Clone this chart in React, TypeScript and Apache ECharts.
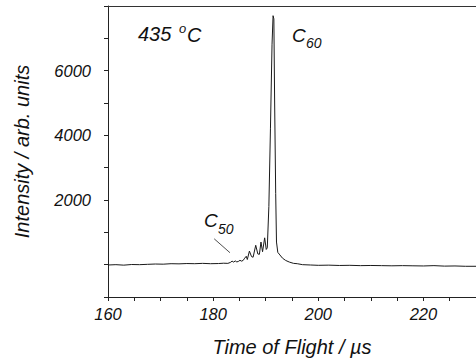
import React, { useEffect, useRef } from "react";
import * as echarts from "echarts";

const times: number[] = [
  160.0, 161.5, 163.0, 164.5, 166.0, 167.5, 169.0, 170.5, 172.0, 173.5, 175.0, 176.5, 178.0, 179.5, 181.0,
  182.0, 182.8, 183.3, 183.6, 183.9, 184.2, 184.5, 184.8, 185.1, 185.4, 185.7, 186.0, 186.3, 186.5, 186.9,
  187.3, 187.6, 188.1, 188.5, 188.8, 189.1, 189.4, 189.8, 190.1, 190.3, 190.6, 190.9, 191.2, 191.4, 191.55,
  191.7, 191.9, 192.05, 192.3, 192.7, 193.2, 193.8, 194.5, 195.3, 196.0, 197.0, 198.5, 200, 202, 204, 206,
  208, 210, 212, 214, 216, 218, 220, 222, 224, 226, 228, 230,
];
const intensity: number[] = [
  -10, 0, -15, 5, 0, 10, 20, 15, 30, 25, 35, 30, 40, 30, 35,
  45, 40, 70, 110, 80, 115, 85, 100, 135, 110, 130, 200, 260, 160, 420,
  250, 230, 600, 330, 320, 700, 400, 830, 470, 520, 1800, 4200, 6800, 7700, 7600,
  5000, 2200, 700, 380, 300, 200, 130, 80, 40, 30, 0, -10, -20, -15, -25, -20,
  -30, -25, -30, -35, -30, -35, -40, -30, -45, -40, -50, -50,
];
const xTickLabels: number[] = [160, 180, 200, 220];
const yTickLabels: number[] = [2000, 4000, 6000];
const leader: [number, number][] = [[180.2, 800], [183.2, 370]];

const FONT = "'Liberation Sans', Arial, Helvetica, sans-serif";
const INK = "#111";

export default function App() {
  const ref = useRef<HTMLDivElement>(null);
  useEffect(() => {
    if (!ref.current) return;
    const chart = echarts.init(ref.current, null, { renderer: "svg" });
    const data = times.map((t, i) => [t, intensity[i]]);
    const txt = (text: string, x: number, y: number, size: number) => ({
      type: "text",
      x,
      y,
      style: {
        text,
        fontSize: size,
        fontStyle: "italic",
        fontFamily: FONT,
        fill: INK,
        textAlign: "left",
        textVerticalAlign: "top",
      },
    });
    chart.setOption({
      animation: false,
      backgroundColor: "#fff",
      grid: { left: 108, right: 0, top: 6, bottom: 67, containLabel: false },
      xAxis: [
        {
          type: "value",
          min: 160,
          max: 230,
          interval: 5,
          name: "Time of Flight / µs",
          nameLocation: "middle",
          nameGap: 40,
          nameTextStyle: { fontSize: 20, fontStyle: "italic", fontFamily: FONT, color: INK },
          axisLine: { show: true, onZero: false, lineStyle: { color: "#222", width: 1 } },
          axisTick: { show: true, length: 4, inside: false, lineStyle: { color: "#222" } },
          axisLabel: {
            margin: 8,
            fontSize: 16.5,
            fontStyle: "italic",
            fontFamily: FONT,
            color: INK,
            showMaxLabel: false,
            formatter: (v: number) => (xTickLabels.includes(v) ? String(v) : ""),
          },
          splitLine: { show: false },
        },
        {
          type: "value",
          position: "top",
          min: 160,
          max: 230,
          axisLine: { show: true, onZero: false, lineStyle: { color: "#333", width: 1 } },
          axisTick: { show: false },
          axisLabel: { show: false },
          splitLine: { show: false },
        },
      ],
      yAxis: {
        type: "value",
        min: -1000,
        max: 8000,
        interval: 1000,
        name: "Intensity / arb. units",
        nameLocation: "middle",
        nameGap: 76,
        nameTextStyle: { fontSize: 20, fontStyle: "italic", fontFamily: FONT, color: INK },
        axisLine: { show: true, onZero: false, lineStyle: { color: "#222", width: 1 } },
        axisTick: { show: true, length: 4, inside: false, lineStyle: { color: "#222" } },
        axisLabel: {
          margin: 17,
          fontSize: 16.5,
          fontStyle: "italic",
          fontFamily: FONT,
          color: INK,
          formatter: (v: number) => (yTickLabels.includes(v) ? String(v) : ""),
        },
        splitLine: { show: false },
      },
      series: [
        {
          type: "line",
          data,
          showSymbol: false,
          lineStyle: { color: "#1a1a1a", width: 1 },
          markLine: {
            silent: true,
            symbol: "none",
            label: { show: false },
            lineStyle: { color: "#222", width: 0.8, type: "solid" },
            data: [[{ coord: leader[0] }, { coord: leader[1] }]],
          },
        },
      ],
      graphic: [
        txt("435", 138, 24, 20),
        txt("o", 179, 22, 13),
        txt("C", 187, 25, 20),
        txt("C", 292, 26, 19),
        txt("60", 306, 36, 14),
        txt("C", 204, 211, 19),
        txt("50", 218, 222, 14),
      ],
    });
    return () => chart.dispose();
  }, []);
  return (
    <div
      ref={ref}
      style={{ position: "fixed", left: 0, top: 0, width: 476, height: 364 }}
    />
  );
}
